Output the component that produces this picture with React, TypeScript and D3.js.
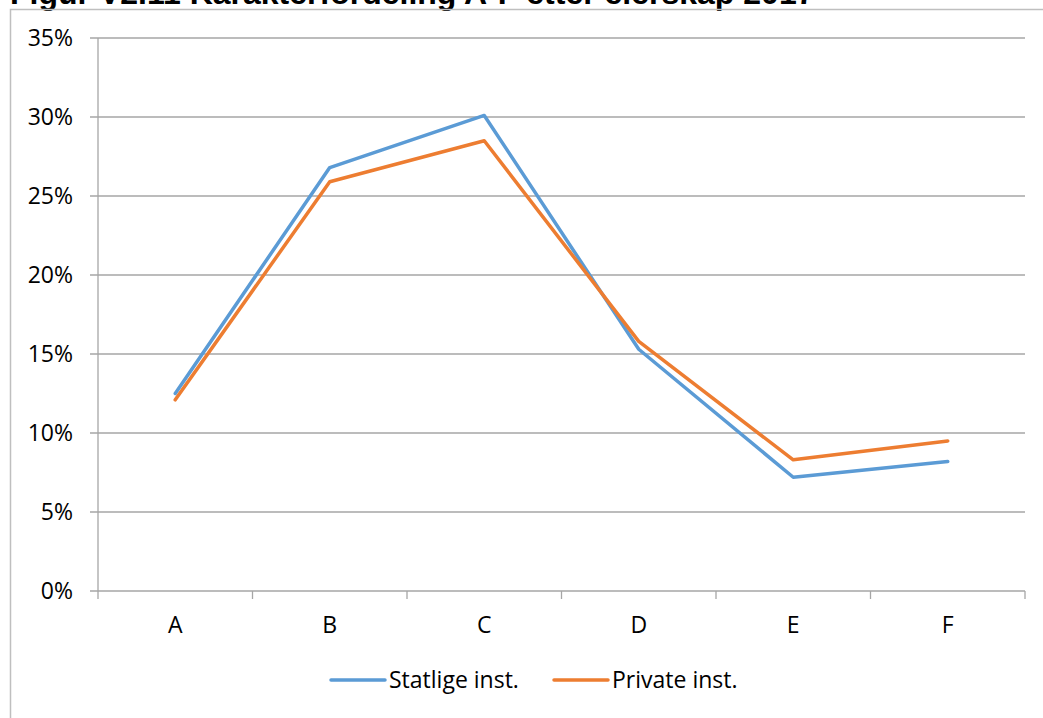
import React from "react";
import * as d3 from "d3";

const categories = ["A", "B", "C", "D", "E", "F"];
const statlige = [0.125, 0.268, 0.301, 0.153, 0.072, 0.082];
const privat = [0.121, 0.259, 0.285, 0.158, 0.083, 0.095];
const seriesNames = ["Statlige inst.", "Private inst."];
const seriesColors = ["#5B9BD5", "#ED7D31"];
const yTicks = [0, 0.05, 0.1, 0.15, 0.2, 0.25, 0.3, 0.35];
const title = "Figur V2.11 Karakterfordeling A-F etter eierskap 2017";

export default function App() {
  const W = 1043, H = 718;
  const x0 = 98, x1 = 1025, yTop = 38, yBot = 591;
  const xBand = d3.scaleBand<string>().domain(categories).range([x0, x1]);
  const y = d3.scaleLinear().domain([0, 0.35]).range([yBot, yTop]);
  const xc = (c: string) => (xBand(c) as number) + xBand.bandwidth() / 2;
  const line = d3.line<[string, number]>().x(d => xc(d[0])).y(d => y(d[1]));
  const series = [statlige, privat];
  const font = "'Open Sans', Lato, sans-serif";
  const fs = 23;
  const grid = "#A6A6A6";
  const ticksX = categories.map(c => xBand(c) as number).concat([x1]);
  return (
    <svg width={W} height={H} style={{ position: "absolute", left: 0, top: 0, background: "#fff" }}>
      <rect x={0} y={0} width={W} height={H} fill="#fff" />
      <text x={10} y={4} fontFamily="'Liberation Sans', Arial, sans-serif" fontWeight="bold" fontSize={32} fill="#000">{title}</text>
      <path d={`M10.5,${H}V9.5H${W}`} fill="none" stroke="#BFBFBF" strokeWidth={1.5} />
      {yTicks.map(t => (
        <g key={t}>
          <line x1={x0 - 8} x2={x1} y1={y(t)} y2={y(t)} stroke={grid} strokeWidth={1.3} />
          <text x={73} y={y(t)} dy="0.35em" textAnchor="end" fontFamily={font} fontSize={fs} fill="#000">{d3.format(".0%")(t)}</text>
        </g>
      ))}
      <line x1={x0} x2={x0} y1={yTop} y2={yBot} stroke={grid} strokeWidth={1.3} />
      {ticksX.map((t, i) => (
        <line key={i} x1={t} x2={t} y1={yBot} y2={yBot + 8} stroke={grid} strokeWidth={1.3} />
      ))}
      {categories.map(c => (
        <text key={c} x={xc(c)} y={625} dy="0.35em" textAnchor="middle" fontFamily={font} fontSize={fs} fill="#000">{c}</text>
      ))}
      {series.map((s, i) => (
        <path key={i} d={line(categories.map((c, j) => [c, s[j]]) as [string, number][]) || ""} fill="none" stroke={seriesColors[i]} strokeWidth={3.5} strokeLinejoin="round" strokeLinecap="round" />
      ))}
      {seriesNames.map((n, i) => {
        const lx = i === 0 ? 331 : 554;
        return (
          <g key={n}>
            <line x1={lx} x2={lx + 54} y1={680} y2={680} stroke={seriesColors[i]} strokeWidth={3.5} strokeLinecap="round" />
            <text x={lx + 58} y={680} dy="0.35em" fontFamily={font} fontSize={fs} fill="#000">{n}</text>
          </g>
        );
      })}
    </svg>
  );
}
